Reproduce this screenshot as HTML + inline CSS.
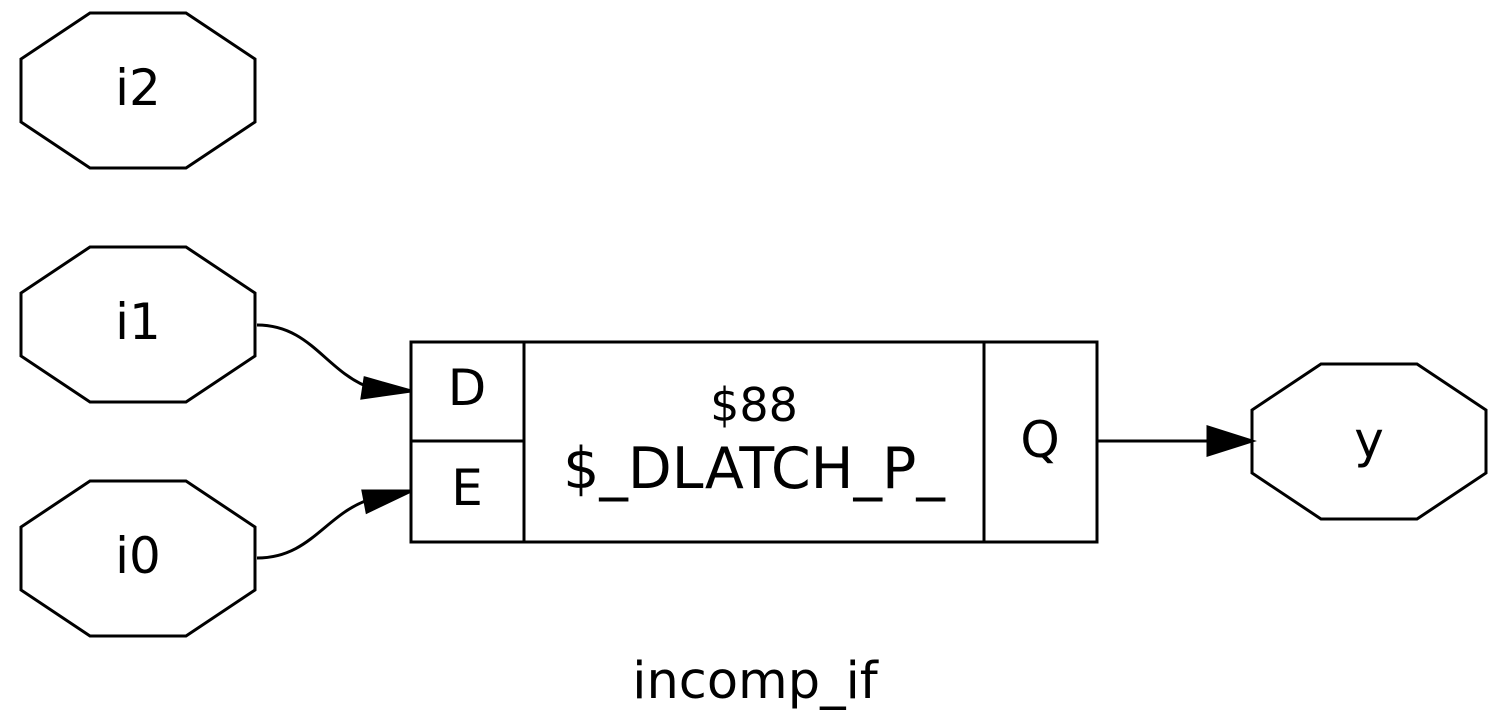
<!DOCTYPE html>
<html><head><style>
html,body{margin:0;padding:0;background:#fff;}
svg{display:block;}
text{font-family:"DejaVu Sans","Liberation Sans",sans-serif;fill:#000;}
</style></head><body>
<svg width="1512" height="723" viewBox="0 0 1512 723" xmlns="http://www.w3.org/2000/svg">
<g fill="none" stroke="#000" stroke-width="3">
<polygon points="90,13 186,13 255,59 255,122 186,168 90,168 21,122 21,59"/>
<polygon points="90,247 186,247 255,293 255,356 186,402 90,402 21,356 21,293"/>
<polygon points="90,481 186,481 255,527 255,590 186,636 90,636 21,590 21,527"/>
<polygon points="1321,364 1417,364 1486,410 1486,473 1417,519 1321,519 1252,473 1252,410"/>
<rect x="411" y="342" width="686" height="200"/>
<line x1="524" y1="342" x2="524" y2="542"/>
<line x1="411" y1="441" x2="524" y2="441"/>
<line x1="984" y1="342" x2="984" y2="542"/>
<path d="M257,325 C310,325 325,370 368,387"/>
<path d="M257,558 C310,558 325,515 368,500"/>
<line x1="1097" y1="441" x2="1210" y2="441"/>
</g>
<g fill="#000" stroke="#000" stroke-width="3">
<polygon points="365,378 411,391 362,398"/>
<polygon points="363,491 411,491 367,512"/>
<polygon points="1208,427 1252,441 1208,455"/>
</g>
<g font-size="50" text-anchor="middle">
<text x="138" y="105">i2</text>
<text x="138" y="339">i1</text>
<text x="138" y="573">i0</text>
<text x="1369" y="457">y</text>
<text x="467" y="405">D</text>
<text x="467" y="505">E</text>
<text x="1040" y="457">Q</text>
<text x="754" y="421" font-size="46">$88</text>
<text x="754" y="488" font-size="57">$_DLATCH_P_</text>
<text x="755" y="698" font-size="51">incomp_if</text>
</g>
</svg>
</body></html>
